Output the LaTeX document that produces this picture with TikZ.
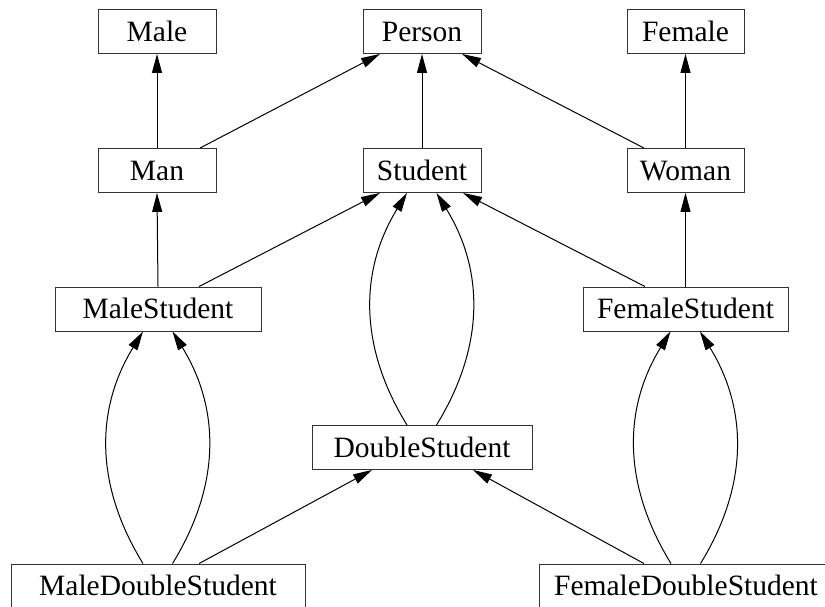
\documentclass[tikz,border=0pt]{standalone}
\usepackage{fontspec}
\setmainfont{Liberation Serif}
\usetikzlibrary{arrows.meta}
\begin{document}
\begin{tikzpicture}[x=1pt,y=-1pt,
  cls/.style={draw=black!80,line width=0.9pt,inner sep=0pt,minimum height=44pt,
    font=\fontsize{29.5}{32}\selectfont,text height=20pt,text depth=0.5pt},
  arr/.style={draw=black,line width=1pt,-{Triangle[length=19pt,width=10pt]}}]
\clip (0,0) rectangle (825,606);
\node[cls,minimum width=118pt] (male) at (157,31.5) {Male};
\node[cls,minimum width=118pt] (person) at (422,31.5) {Person};
\node[cls,minimum width=117pt] (female) at (685.5,31.5) {Female};
\node[cls,minimum width=118pt] (man) at (157,170.5) {Man};
\node[cls,minimum width=118pt] (student) at (422,170.5) {Student};
\node[cls,minimum width=117pt] (woman) at (685.5,170.5) {Woman};
\node[cls,minimum width=206pt] (ms) at (158,309) {MaleStudent};
\node[cls,minimum width=205pt] (fs) at (685.5,309) {FemaleStudent};
\node[cls,minimum width=220pt] (ds) at (422,447.5) {DoubleStudent};
\node[cls,minimum width=294pt] (mds) at (158,586) {MaleDoubleStudent};
\node[cls,minimum width=294pt] (fds) at (686,586) {FemaleDoubleStudent};
% straight edges
\draw[arr] (man.north) -- (male.south);
\draw[arr] ([xshift=43pt]man.north) -- ([xshift=-42pt]person.south);
\draw[arr] (student.north) -- (person.south);
\draw[arr] ([xshift=-41.5pt]woman.north) -- ([xshift=40pt]person.south);
\draw[arr] (woman.north) -- (female.south);
\draw[arr] (ms.north) -- (man.south);
\draw[arr] ([xshift=41pt]ms.north) -- ([xshift=-42pt]student.south);
\draw[arr] (fs.north) -- (woman.south);
\draw[arr] ([xshift=-40.5pt]fs.north) -- ([xshift=41pt]student.south);
\draw[arr] ([xshift=41pt]mds.north) -- ([xshift=-50pt]ds.south);
\draw[arr] ([xshift=-42pt]fds.north) -- ([xshift=51pt]ds.south);
% curved double edges
\draw[arr] ([xshift=-15pt]ds.north) .. controls +(-48,-78) and +(-48,78) .. ([xshift=-15pt]student.south);
\draw[arr] ([xshift=14.5pt]ds.north) .. controls +(48,-78) and +(48,78) .. ([xshift=14.5pt]student.south);
\draw[arr] ([xshift=-15pt]mds.north) .. controls +(-48,-78) and +(-48,78) .. ([xshift=-15pt]ms.south);
\draw[arr] ([xshift=14.5pt]mds.north) .. controls +(48,-78) and +(48,78) .. ([xshift=14.5pt]ms.south);
\draw[arr] ([xshift=-15pt]fds.north) .. controls +(-48,-78) and +(-48,78) .. ([xshift=-15pt]fs.south);
\draw[arr] ([xshift=14.5pt]fds.north) .. controls +(48,-78) and +(48,78) .. ([xshift=14.5pt]fs.south);
\end{tikzpicture}
\end{document}
